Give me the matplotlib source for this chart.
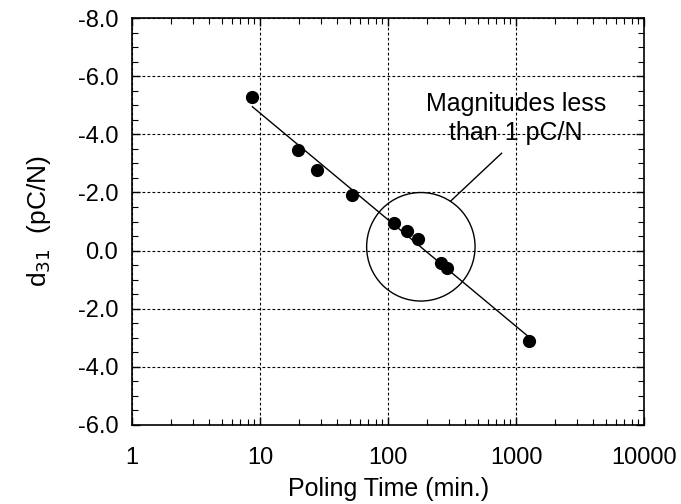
import numpy as np
import matplotlib
matplotlib.use("Agg")
import matplotlib.pyplot as plt
from matplotlib.patches import Ellipse
from matplotlib.ticker import LogLocator, MultipleLocator, FixedLocator, FixedFormatter

plt.rcParams['font.family'] = ['Liberation Sans', 'DejaVu Sans']

# Measured d31 versus poling time
poling_time = [8.7, 19.6, 27.6, 52.3, 111, 141, 171, 258, 286, 1260]
d31 = [-5.27, -3.46, -2.78, -1.91, -0.96, -0.67, -0.39, 0.44, 0.61, 3.11]

# Straight-line trend (log-linear) endpoints
trend_time = [8.7, 1260]
trend_d31 = [-4.95, 2.98]

# Axis ticks and labels
ytick_values = [-8, -6, -4, -2, 0, 2, 4, 6]
ytick_labels = ['-8.0', '-6.0', '-4.0', '-2.0', '0.0', '-2.0', '-4.0', '-6.0']
xtick_values = [1, 10, 100, 1000, 10000]
xtick_labels = ['1', '10', '100', '1000', '10000']

# Highlight region for small magnitudes
circle_center = (180, -0.13)
leader_start = (307, -1.70)
leader_end = (769, -3.35)
note_text = "Magnitudes less\nthan 1 pC/N"
note_pos = (990, -4.55)

fig = plt.figure(figsize=(6.81, 5.04), dpi=100)
ax = fig.add_axes([0.194, 0.157, 0.752, 0.807])

ax.set_xscale('log')
ax.set_xlim(1, 10000)
ax.set_ylim(6, -8)

ax.plot(trend_time, trend_d31, color='black', lw=1.0, zorder=3)
ax.plot(poling_time, d31, 'o', color='black', markersize=8.5, zorder=4)

# circle around the near-zero points (drawn in axes space so it stays round)
cx = np.log10(circle_center[0]) / 4.0
cy = (6 - circle_center[1]) / 14.0
ax.add_patch(Ellipse((cx, cy), 0.2117, 0.2668, transform=ax.transAxes,
                     fill=False, edgecolor='black', lw=1.0, zorder=3))
ax.plot([leader_start[0], leader_end[0]], [leader_start[1], leader_end[1]],
        color='black', lw=1.0, zorder=3)
ax.text(note_pos[0], note_pos[1], note_text, ha='center', va='center',
        fontsize=18, linespacing=1.25, zorder=5)

ax.xaxis.set_major_locator(FixedLocator(xtick_values))
ax.xaxis.set_major_formatter(FixedFormatter(xtick_labels))
ax.xaxis.set_minor_locator(LogLocator(base=10, subs=np.arange(2, 10), numticks=20))
ax.yaxis.set_major_locator(FixedLocator(ytick_values))
ax.yaxis.set_major_formatter(FixedFormatter(ytick_labels))
ax.yaxis.set_minor_locator(MultipleLocator(0.5))

ax.tick_params(which='both', direction='in', top=True, right=True, color='black')
ax.tick_params(which='major', length=6, width=1.0, labelsize=17)
ax.tick_params(which='minor', length=4, width=0.8)
ax.tick_params(axis='x', which='major', pad=16)
ax.tick_params(axis='y', which='major', pad=10)

ax.grid(True, which='major', color='black', lw=0.8, linestyle=(0, (2.5, 2)))
ax.set_axisbelow(True)

for s in ax.spines.values():
    s.set_linewidth(1.2)

ax.set_xlabel('Poling Time (min.)', fontsize=18)
ax.xaxis.set_label_coords(0.5, -0.128)
ax.set_ylabel('d$_{31}$  (pC/N)', fontsize=19, labelpad=18)

fig.savefig('out.png', dpi=100)
